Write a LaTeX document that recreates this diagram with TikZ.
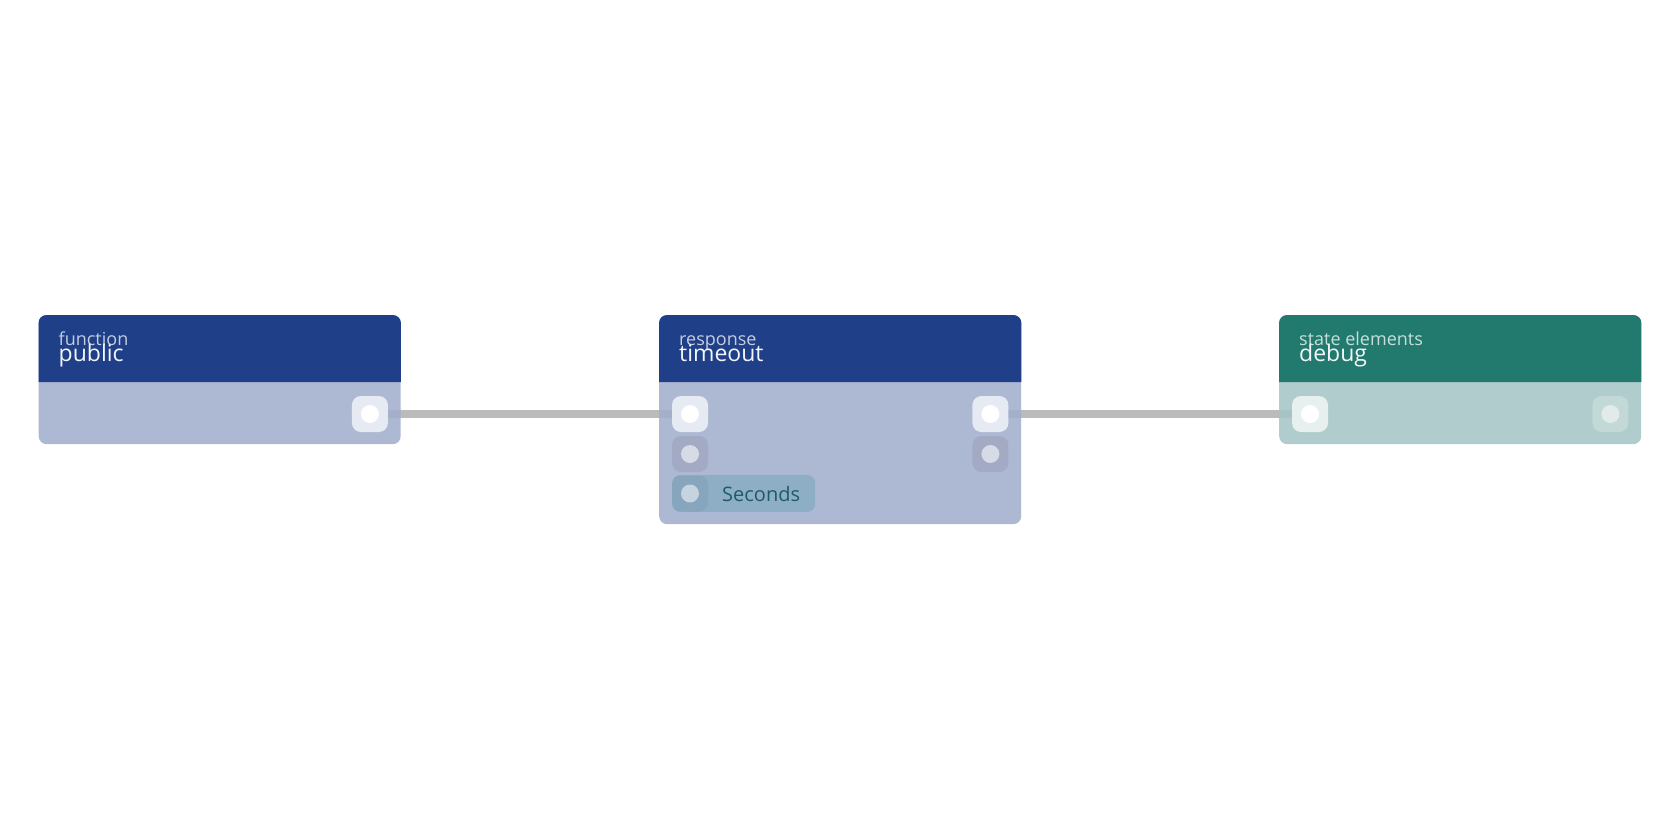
\documentclass[tikz,border=0pt]{standalone}
\usepackage{fontspec}
\setmainfont{Open Sans}
\usetikzlibrary{positioning,backgrounds}
\definecolor{headblue}{HTML}{1F3F88}
\definecolor{bodyblue}{HTML}{A2AECD}
\definecolor{headteal}{HTML}{227A6E}
\definecolor{bodyteal}{HTML}{A5C5C5}
\definecolor{portblue}{HTML}{E6EAF2}
\definecolor{portdim}{HTML}{A2AAC4}
\definecolor{dotdim}{HTML}{D6DBE6}
\definecolor{pillblue}{HTML}{8EAEC5}
\definecolor{pillport}{HTML}{87A6BE}
\definecolor{pilldot}{HTML}{C6D4E0}
\definecolor{pilltext}{HTML}{1D5C68}
\definecolor{portteal}{HTML}{E8F0EF}
\definecolor{portteallow}{HTML}{C2D9D7}
\definecolor{dotteallow}{HTML}{E2EBEA}
\definecolor{subblue}{HTML}{C5CDE0}
\definecolor{subteal}{HTML}{C5E0DB}
\definecolor{titlewhite}{HTML}{F3F5F9}
\definecolor{wire}{HTML}{BBBBBB}
\tikzset{
    cardbody/.style={draw=none, rounded corners=8pt, minimum width=362pt,
        anchor=north west, inner sep=0pt, fill opacity=0.88},
    portbox/.style={draw=none, rounded corners=9pt, minimum size=36pt, inner sep=0pt,
        fill=#1},
    portdot/.style={path picture={\fill[#1] (path picture bounding box.center) circle (9pt);}},
    subtitle/.style={anchor=base west, inner sep=0pt, font=\fontsize{18}{20}\selectfont},
    title/.style={anchor=base west, inner sep=0pt, text=titlewhite, font=\fontsize{23}{26}\selectfont},
    wire/.style={draw=wire, line width=8pt},
}
\begin{document}
\begin{tikzpicture}[x=1pt, y=-1pt]
    \useasboundingbox (0,0) rectangle (1680,840);
    % cards
    \node[cardbody, fill=bodyblue, minimum height=129pt] (public) at (38.5,315) {};
    \node[cardbody, fill=bodyblue, minimum height=209pt] (timeout) at (659,315) {};
    \node[cardbody, fill=bodyteal, minimum height=129pt] (debug) at (1279,315) {};
    \fill[headblue] ([yshift=-67pt]public.north west) [rounded corners=8pt] -- (public.north west)
        -- (public.north east) [sharp corners] -- ([yshift=-67pt]public.north east) -- cycle;
    \fill[headblue] ([yshift=-67pt]timeout.north west) [rounded corners=8pt] -- (timeout.north west)
        -- (timeout.north east) [sharp corners] -- ([yshift=-67pt]timeout.north east) -- cycle;
    \fill[headteal] ([yshift=-67pt]debug.north west) [rounded corners=8pt] -- (debug.north west)
        -- (debug.north east) [sharp corners] -- ([yshift=-67pt]debug.north east) -- cycle;
    % headings
    \node[subtitle, text=subblue] at ([xshift=20pt,yshift=-30.5pt]public.north west) {function};
    \node[title] at ([xshift=20pt,yshift=-46pt]public.north west) {public};
    \node[subtitle, text=subblue] at ([xshift=20pt,yshift=-30.5pt]timeout.north west) {response};
    \node[title] at ([xshift=20pt,yshift=-46pt]timeout.north west) {timeout};
    \node[subtitle, text=subteal] at ([xshift=20pt,yshift=-30.5pt]debug.north west) {state elements};
    \node[title] at ([xshift=20pt,yshift=-46pt]debug.north west) {debug};
    % ports
    \node[portbox=portblue, portdot=white] (public-out) at ([xshift=-31pt,yshift=-99pt]public.north east) {};
    \node[portbox=portblue, portdot=white] (timeout-in) at ([xshift=31pt,yshift=-99pt]timeout.north west) {};
    \node[portbox=portdim, portdot=dotdim] (timeout-in2) at ([xshift=31pt,yshift=-139pt]timeout.north west) {};
    \node[draw=none, fill=pillblue, rounded corners=8pt, minimum width=143pt, minimum height=37pt,
        inner sep=0pt, anchor=west] (timeout-sec) at ([xshift=13pt,yshift=-178.5pt]timeout.north west) {};
    \node[portbox=pillport, portdot=pilldot] (timeout-in3) at ([xshift=31pt,yshift=-178.5pt]timeout.north west) {};
    \node[anchor=west, inner sep=0pt, text=pilltext, font=\fontsize{20}{23}\selectfont]
        at ([xshift=50pt]timeout-sec.west) {Seconds};
    \node[portbox=portblue, portdot=white] (timeout-out) at ([xshift=-31pt,yshift=-99pt]timeout.north east) {};
    \node[portbox=portdim, portdot=dotdim] (timeout-out2) at ([xshift=-31pt,yshift=-139pt]timeout.north east) {};
    \node[portbox=portteal, portdot=white] (debug-in) at ([xshift=31pt,yshift=-99pt]debug.north west) {};
    \node[portbox=portteallow, portdot=dotteallow] (debug-out) at ([xshift=-31pt,yshift=-99pt]debug.north east) {};
    % wires
    \begin{scope}[on background layer]
        \draw[wire] (public-out.center) -- (timeout-in.center);
        \draw[wire] (timeout-out.center) -- (debug-in.center);
    \end{scope}
\end{tikzpicture}
\end{document}
